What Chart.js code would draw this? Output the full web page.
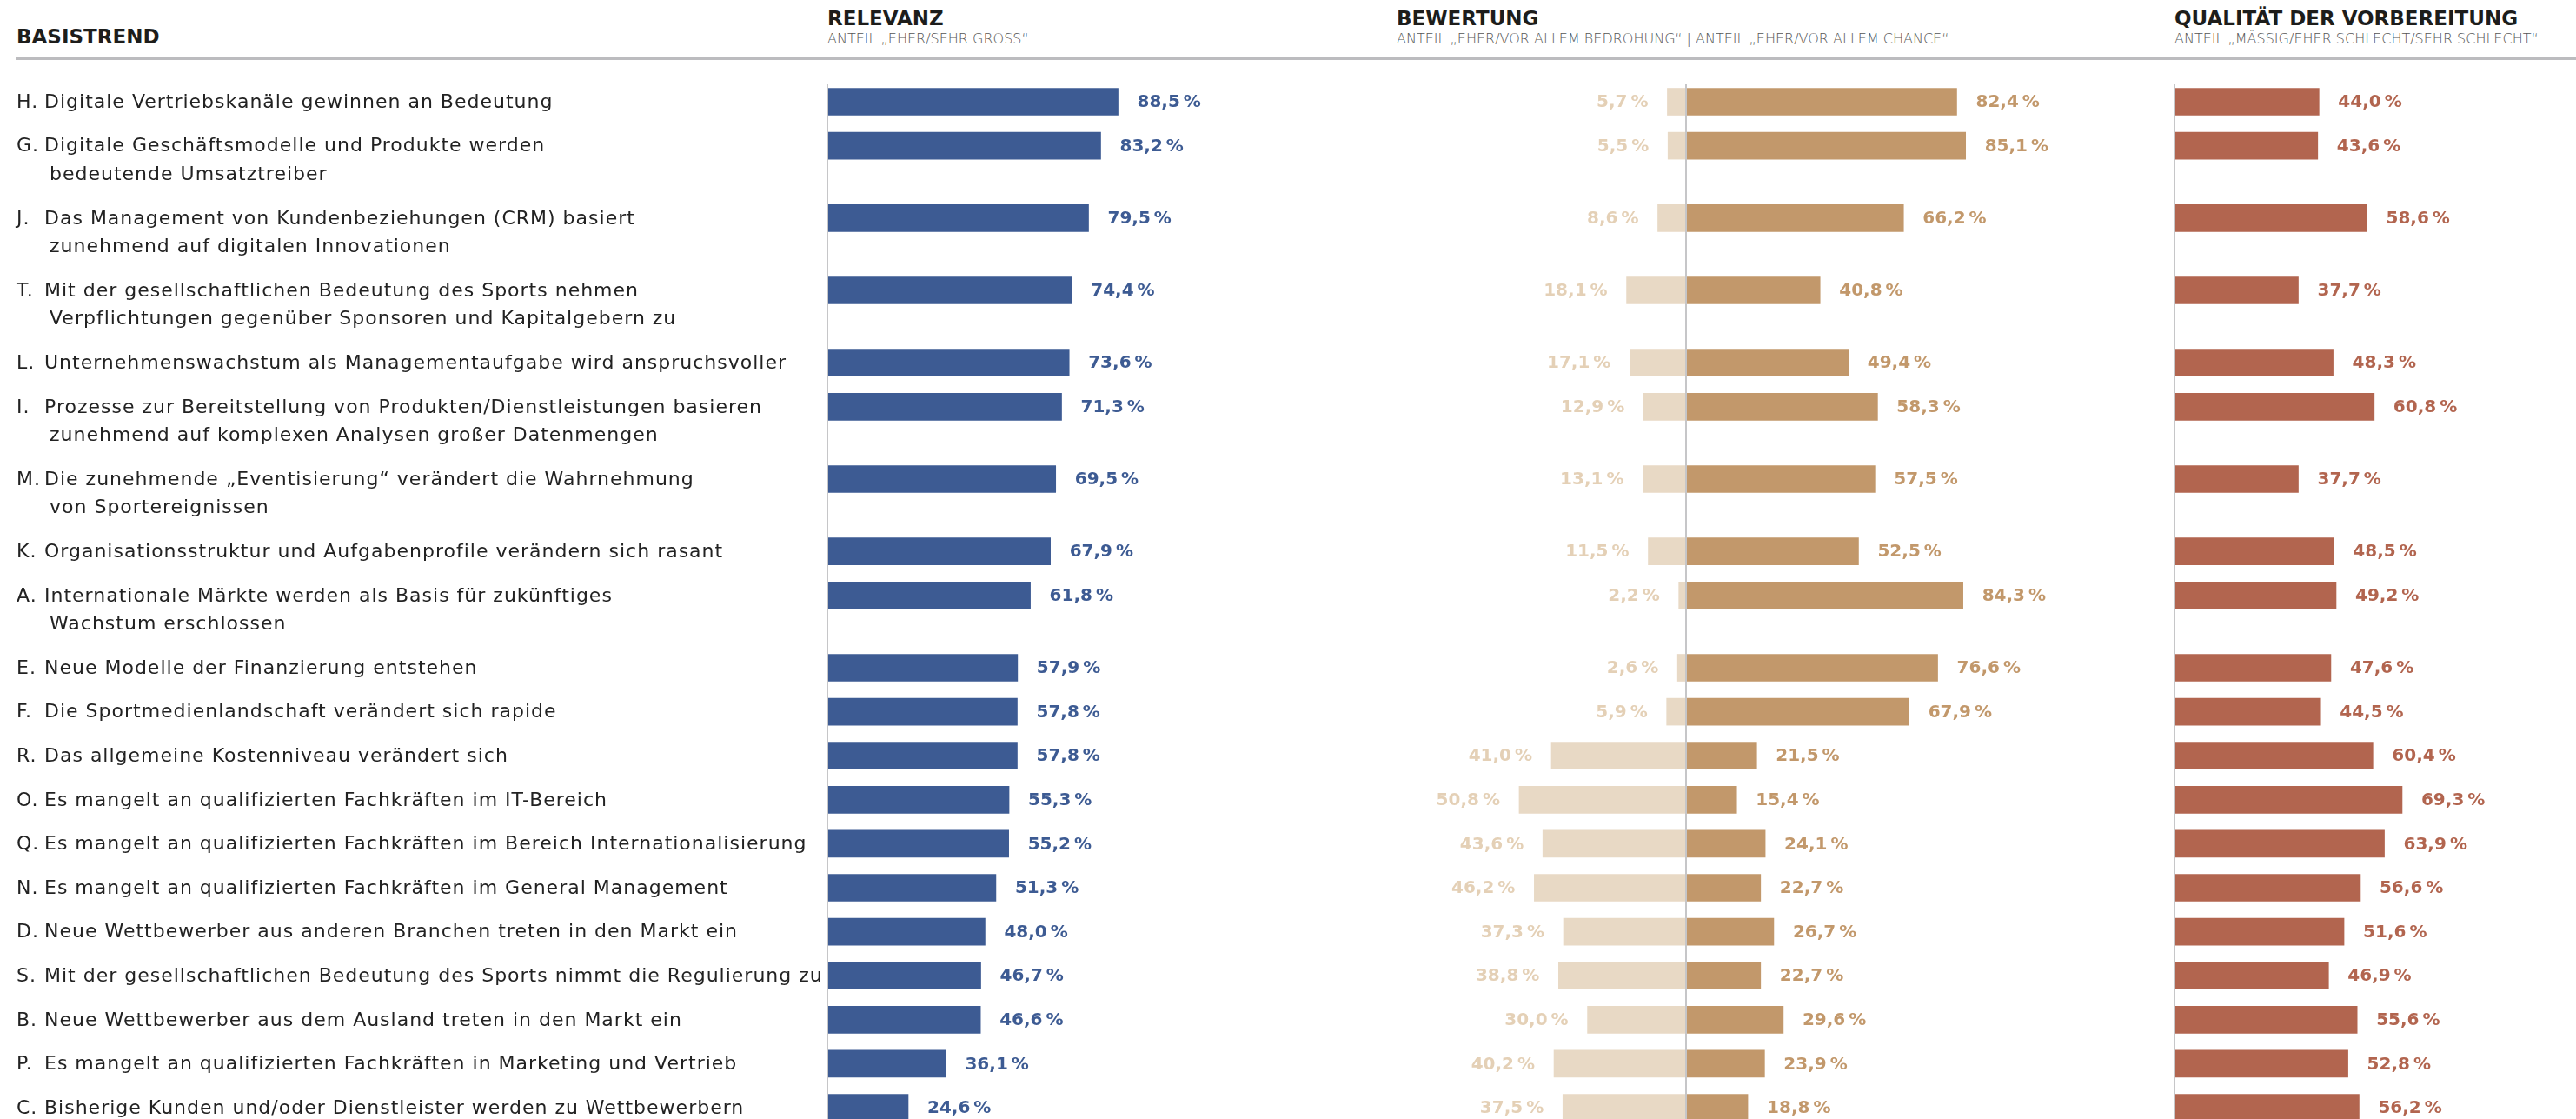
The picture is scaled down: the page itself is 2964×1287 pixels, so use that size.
<!DOCTYPE html>
<html lang="de">
<head>
<meta charset="utf-8">
<title>Basistrends</title>
<script src="https://cdn.jsdelivr.net/npm/chart.js"></script>
<style>
    html, body { margin: 0; padding: 0; background: #fff; }
    body { width: 2964px; height: 1287px; overflow: hidden; position: relative; font-family: 'DejaVu Sans', sans-serif; color: #1d1d1b; }
    .head { position: absolute; top: 7px; white-space: nowrap; }
    .head h2 { margin: 0; font-size: 23px; font-weight: 700; line-height: 28px; }
    .head p { margin: 0; font-size: 16px; font-weight: 200; color: #555; line-height: 20px; }
    #basis { position: absolute; left: 19px; top: 28px; margin: 0; font-size: 23px; font-weight: 700; line-height: 28px; }
    #rule { position: absolute; left: 18px; right: 0; top: 66px; height: 3px; background: #bcbcbf; }
    canvas { position: absolute; top: 97px; }
</style>
</head>
<body>
<h2 id="basis">BASISTREND</h2>
<div class="head" style="left:952px"><h2>RELEVANZ</h2><p>ANTEIL „EHER/SEHR GROSS“</p></div>
<div class="head" style="left:1607px"><h2>BEWERTUNG</h2><p>ANTEIL „EHER/VOR ALLEM BEDROHUNG“ | ANTEIL „EHER/VOR ALLEM CHANCE“</p></div>
<div class="head" style="left:2502px"><h2>QUALITÄT DER VORBEREITUNG</h2><p>ANTEIL „MÄSSIG/EHER SCHLECHT/SEHR SCHLECHT“</p></div>
<div id="rule"></div>
<canvas id="relevanz" width="1560" height="1190" style="left:0"></canvas>
<canvas id="bewertung" width="880" height="1190" style="left:1560px"></canvas>
<canvas id="vorbereitung" width="524" height="1190" style="left:2440px"></canvas>
<script>
const letters = ['H.', 'G.', 'J.', 'T.', 'L.', 'I.', 'M.', 'K.', 'A.', 'E.', 'F.', 'R.', 'O.', 'Q.', 'N.', 'D.', 'S.', 'B.', 'P.', 'C.'];
const trends = [
    ['Digitale Vertriebskanäle gewinnen an Bedeutung'],
    ['Digitale Geschäftsmodelle und Produkte werden', 'bedeutende Umsatztreiber'],
    ['Das Management von Kundenbeziehungen (CRM) basiert', 'zunehmend auf digitalen Innovationen'],
    ['Mit der gesellschaftlichen Bedeutung des Sports nehmen', 'Verpflichtungen gegenüber Sponsoren und Kapitalgebern zu'],
    ['Unternehmenswachstum als Managementaufgabe wird anspruchsvoller'],
    ['Prozesse zur Bereitstellung von Produkten/Dienstleistungen basieren', 'zunehmend auf komplexen Analysen großer Datenmengen'],
    ['Die zunehmende „Eventisierung“ verändert die Wahrnehmung', 'von Sportereignissen'],
    ['Organisationsstruktur und Aufgabenprofile verändern sich rasant'],
    ['Internationale Märkte werden als Basis für zukünftiges', 'Wachstum erschlossen'],
    ['Neue Modelle der Finanzierung entstehen'],
    ['Die Sportmedienlandschaft verändert sich rapide'],
    ['Das allgemeine Kostenniveau verändert sich'],
    ['Es mangelt an qualifizierten Fachkräften im IT-Bereich'],
    ['Es mangelt an qualifizierten Fachkräften im Bereich Internationalisierung'],
    ['Es mangelt an qualifizierten Fachkräften im General Management'],
    ['Neue Wettbewerber aus anderen Branchen treten in den Markt ein'],
    ['Mit der gesellschaftlichen Bedeutung des Sports nimmt die Regulierung zu'],
    ['Neue Wettbewerber aus dem Ausland treten in den Markt ein'],
    ['Es mangelt an qualifizierten Fachkräften in Marketing und Vertrieb'],
    ['Bisherige Kunden und/oder Dienstleister werden zu Wettbewerbern']
];
const relevanz = [88.5, 83.2, 79.5, 74.4, 73.6, 71.3, 69.5, 67.9, 61.8, 57.9, 57.8, 57.8, 55.3, 55.2, 51.3, 48.0, 46.7, 46.6, 36.1, 24.6];
const bedrohung = [5.7, 5.5, 8.6, 18.1, 17.1, 12.9, 13.1, 11.5, 2.2, 2.6, 5.9, 41.0, 50.8, 43.6, 46.2, 37.3, 38.8, 30.0, 40.2, 37.5];
const chance = [82.4, 85.1, 66.2, 40.8, 49.4, 58.3, 57.5, 52.5, 84.3, 76.6, 67.9, 21.5, 15.4, 24.1, 22.7, 26.7, 22.7, 29.6, 23.9, 18.8];
const vorbereitung = [44.0, 43.6, 58.6, 37.7, 48.3, 60.8, 37.7, 48.5, 49.2, 47.6, 44.5, 60.4, 69.3, 63.9, 56.6, 51.6, 46.9, 55.6, 52.8, 56.2];

const colors = {
    blue: '#3d5b93',
    tan: '#c2986b',
    light: '#e8d9c5',
    lightText: '#e4d0b6',
    red: '#b2654f',
    axis: '#c6c6c8',
    text: '#222222'
};

const PX_PER_PCT = 3.78;
const ROW_GAP = 18;
const LINE_H = 32.6;
const TOP_OFFSET = 20;
const CANVAS_H = 1190;
const FONT = '"DejaVu Sans", sans-serif';

// vertical slot of each trend follows from how many lines its label needs
let rowPos = [];
let acc = 0;
trends.forEach(function (t) {
    rowPos.push(acc);
    acc += ROW_GAP + LINE_H * t.length;
});

function fmt(v) {
    return Math.abs(v).toFixed(1).replace('.', ',') + '\u2009%';
}

function points(values, sign) {
    return values.map((v, i) => ({ x: sign * v, y: rowPos[i] }));
}

const zeroLine = {
    id: 'zeroLine',
    afterDatasetsDraw(chart) {
        const ctx = chart.ctx;
        const x = Math.round(chart.scales.x.getPixelForValue(0));
        ctx.save();
        ctx.strokeStyle = colors.axis;
        ctx.lineWidth = 2;
        ctx.beginPath();
        ctx.moveTo(x, 0);
        ctx.lineTo(x, chart.height);
        ctx.stroke();
        ctx.restore();
    }
};

const valueLabels = {
    id: 'valueLabels',
    afterDraw(chart) {
        const ctx = chart.ctx;
        ctx.save();
        ctx.font = 'bold 20px ' + FONT;
        ctx.textBaseline = 'middle';
        chart.data.datasets.forEach((ds, di) => {
            const meta = chart.getDatasetMeta(di);
            meta.data.forEach((bar, i) => {
                const v = ds.data[i].x;
                ctx.fillStyle = ds.labelColor;
                if (v < 0) {
                    ctx.textAlign = 'right';
                    ctx.fillText(fmt(v), bar.x - 22, bar.y + 1);
                } else {
                    ctx.textAlign = 'left';
                    ctx.fillText(fmt(v), bar.x + 22, bar.y + 1);
                }
            });
        });
        ctx.restore();
    }
};

const trendLabels = {
    id: 'trendLabels',
    afterDraw(chart) {
        const ctx = chart.ctx;
        const y = chart.scales.y;
        ctx.save();
        ctx.font = '22px ' + FONT;
        ctx.letterSpacing = '1px';
        ctx.fillStyle = colors.text;
        ctx.textBaseline = 'middle';
        ctx.textAlign = 'left';
        trends.forEach((lines, i) => {
            const py = y.getPixelForValue(rowPos[i]) + 1;
            ctx.fillText(letters[i], 19, py);
            lines.forEach((line, li) => {
                ctx.fillText(line, li === 0 ? 51 : 57, py + li * LINE_H);
            });
        });
        ctx.restore();
    }
};

function makeChart(id, left, zeroX, datasets, plugins) {
    const canvas = document.getElementById(id);
    const width = canvas.width;
    return new Chart(canvas, {
        type: 'bar',
        data: { datasets },
        options: {
            indexAxis: 'y',
            responsive: false,
            animation: false,
            devicePixelRatio: 1,
            layout: { padding: 0 },
            plugins: { legend: { display: false }, tooltip: { enabled: false } },
            scales: {
                x: {
                    type: 'linear',
                    display: false,
                    stacked: true,
                    min: -(zeroX - left) / PX_PER_PCT,
                    max: (left + width - zeroX) / PX_PER_PCT
                },
                y: {
                    type: 'linear',
                    display: false,
                    stacked: true,
                    reverse: true,
                    offset: false,
                    grace: 0,
                    min: -TOP_OFFSET,
                    max: CANVAS_H - TOP_OFFSET
                }
            }
        },
        plugins: plugins
    });
}

function barSet(values, sign, color, labelColor) {
    return {
        data: points(values, sign),
        backgroundColor: color,
        labelColor: labelColor,
        barThickness: 31,
        borderWidth: 0
    };
}

makeChart('relevanz', 0, 952, [
    barSet(relevanz, 1, colors.blue, colors.blue)
], [zeroLine, valueLabels, trendLabels]);

makeChart('bewertung', 1560, 1940, [
    barSet(bedrohung, -1, colors.light, colors.lightText),
    barSet(chance, 1, colors.tan, colors.tan)
], [zeroLine, valueLabels]);

makeChart('vorbereitung', 2440, 2502, [
    barSet(vorbereitung, 1, colors.red, colors.red)
], [zeroLine, valueLabels]);
</script>
</body>
</html>
